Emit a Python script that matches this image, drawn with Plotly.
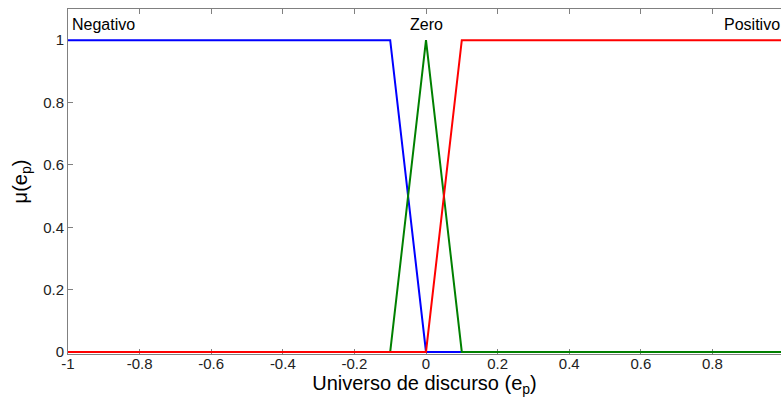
import plotly.graph_objects as go

neg_x = [-1, -0.1, 0, 1]
neg_y = [1, 1, 0, 0]
zero_x = [-1, -0.1, 0, 0.1, 1]
zero_y = [0, 0, 1, 0, 0]
pos_x = [-1, 0, 0.1, 1]
pos_y = [0, 0, 1, 1]

x_ticks = [-1, -0.8, -0.6, -0.4, -0.2, 0, 0.2, 0.4, 0.6, 0.8]
x_tick_labels = ["-1", "-0.8", "-0.6", "-0.4", "-0.2", "0", "0.2", "0.4", "0.6", "0.8"]
y_ticks = [0, 0.2, 0.4, 0.6, 0.8, 1]
y_tick_labels = ["0", "0.2", "0.4", "0.6", "0.8", "1"]

FONT = "Liberation Sans, Arial, sans-serif"

fig = go.Figure()
fig.add_trace(go.Scatter(x=neg_x, y=neg_y, mode="lines", line=dict(color="#0000ff", width=2),
                         cliponaxis=False, showlegend=False, name="Negativo"))
fig.add_trace(go.Scatter(x=zero_x, y=zero_y, mode="lines", line=dict(color="#008000", width=2),
                         cliponaxis=False, showlegend=False, name="Zero"))
fig.add_trace(go.Scatter(x=pos_x, y=pos_y, mode="lines", line=dict(color="#ff0000", width=2),
                         cliponaxis=False, showlegend=False, name="Positivo"))

fig.add_annotation(x=-1, y=1.05, xref="x", yref="y", text="Negativo", showarrow=False,
                   xanchor="left", yanchor="middle", xshift=2, font=dict(size=16, color="black", family=FONT))
fig.add_annotation(x=0, y=1.05, xref="x", yref="y", text="Zero", showarrow=False,
                   xanchor="center", yanchor="middle", font=dict(size=16, color="black", family=FONT))
fig.add_annotation(x=1, y=1.05, xref="paper", yref="y", text="Positivo", showarrow=False,
                   xanchor="right", yanchor="middle", xshift=1, font=dict(size=16, color="black", family=FONT))

fig.update_layout(
    width=781, height=398,
    margin=dict(l=68, r=0, t=9, b=44),
    paper_bgcolor="white", plot_bgcolor="white",
    font=dict(family=FONT, color="black"),
    xaxis=dict(range=[-1, 0.9916], tickvals=x_ticks, ticktext=x_tick_labels,
               ticks="inside", ticklen=5, tickcolor="#808080", showline=True, linecolor="#808080",
               linewidth=1, mirror="ticks", showgrid=False, zeroline=False, layer="below traces",
               ticklabelstandoff=-4,
               tickfont=dict(size=15, color="#222222", family=FONT),
               title=dict(text="Universo de discurso (e<sub>p</sub>)", font=dict(size=20, color="black", family=FONT),
                          standoff=2)),
    yaxis=dict(range=[-0.0065, 1.1], tickvals=y_ticks, ticktext=y_tick_labels,
               ticks="inside", ticklen=5, tickcolor="#808080", showline=True, linecolor="#808080",
               linewidth=1, mirror=False, showgrid=False, zeroline=False, layer="below traces",
               tickfont=dict(size=15, color="#222222", family=FONT),
               title=dict(text="μ(e<sub>p</sub>)", font=dict(size=20, color="black", family=FONT),
                          standoff=10)),
)

fig.write_html("out.html")
